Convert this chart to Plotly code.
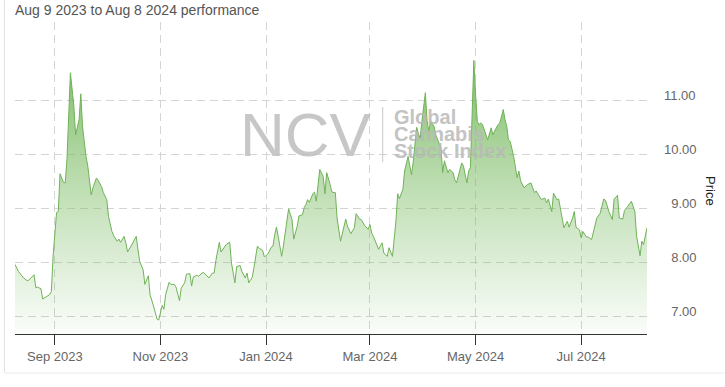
import pandas as pd
import plotly.graph_objects as go

# ---- data ----
start_date = "2023-08-09"
day_offsets = [
    0, 2, 5, 7, 8, 10, 11, 12, 13, 15, 16, 18, 20, 21, 22, 24, 25, 26, 28, 29,
    30, 32, 34, 35, 37, 38, 39, 41, 42, 44, 45, 47, 48, 50, 51, 53, 54, 56, 57, 59,
    60, 61, 63, 64, 65, 67, 70, 71, 72, 74, 75, 77, 78, 80, 82, 83, 85, 86, 87, 89,
    90, 92, 93, 95, 96, 98, 99, 101, 102, 103, 105, 106, 108, 109, 111, 112, 114, 115, 116, 118,
    119, 121, 122, 124, 125, 127, 128, 130, 131, 133, 134, 135, 137, 138, 140, 141, 143, 144, 146, 148,
    149, 150, 151, 152, 154, 155, 158, 160, 161, 163, 164, 166, 167, 168, 169, 170, 172, 173, 174, 176,
    178, 179, 180, 182, 183, 185, 186, 188, 189, 191, 192, 194, 196, 197, 199, 200, 202, 204, 205, 206,
    207, 209, 210, 212, 213, 215, 216, 218, 220, 221, 222, 224, 225, 227, 228, 229, 230, 232, 233, 234,
    235, 237, 238, 239, 240, 242, 243, 245, 246, 247, 248, 250, 251, 253, 254, 255, 257, 258, 259, 260,
    261, 262, 263, 264, 265, 266, 267, 268, 269, 270, 272, 273, 275, 276, 277, 279, 280, 282, 283, 284,
    285, 286, 288, 289, 290, 291, 292, 294, 296, 298, 299, 300, 301, 303, 304, 306, 307, 308, 310, 311,
    313, 314, 316, 317, 319, 320, 322, 323, 324, 326, 327, 328, 330, 331, 333, 334, 336, 338, 340, 341,
    343, 345, 346, 348, 349, 351, 352, 354, 356, 358, 359, 361, 362, 363, 365,
]
prices = [
    7.96, 7.83, 7.71, 7.66, 7.67, 7.75, 7.77, 7.53, 7.54, 7.51, 7.32, 7.36, 7.40, 7.46, 8.11, 8.92, 8.94, 9.64, 9.48, 9.47,
    9.90, 11.51, 10.89, 10.36, 10.64, 11.12, 10.52, 9.96, 9.79, 9.25, 9.38, 9.56, 9.52, 9.40, 9.29, 9.16, 8.85, 8.57, 8.49, 8.39,
    8.43, 8.37, 8.48, 8.36, 8.19, 8.30, 8.48, 8.24, 8.02, 7.86, 7.59, 7.75, 7.40, 7.19, 6.95, 6.93, 7.20, 7.13, 7.40, 7.63,
    7.59, 7.59, 7.54, 7.29, 7.52, 7.62, 7.78, 7.79, 7.56, 7.73, 7.76, 7.74, 7.80, 7.81, 7.75, 7.71, 7.80, 7.80, 8.03, 8.37,
    8.19, 8.27, 8.33, 8.37, 7.99, 7.62, 7.92, 7.94, 7.83, 7.71, 7.80, 7.62, 7.72, 7.90, 8.30, 8.26, 8.22, 8.10, 8.15, 8.28,
    8.30, 8.51, 8.65, 8.48, 8.11, 8.30, 8.99, 8.79, 8.43, 8.67, 8.86, 8.88, 9.01, 9.07, 9.16, 9.11, 9.27, 9.30, 9.13, 9.72,
    9.59, 9.27, 9.66, 9.44, 9.30, 9.29, 8.82, 8.39, 8.54, 8.80, 8.67, 8.53, 8.64, 8.90, 8.80, 8.79, 8.68, 8.61, 8.70, 8.54,
    8.48, 8.33, 8.24, 8.36, 8.17, 8.11, 8.27, 8.11, 8.76, 9.27, 9.18, 9.35, 9.69, 9.96, 9.75, 9.62, 9.87, 10.50, 10.38, 10.30,
    10.61, 11.14, 10.61, 10.43, 10.61, 10.52, 10.36, 10.21, 10.12, 9.66, 9.88, 9.66, 9.72, 9.66, 9.53, 9.47, 9.72, 9.84, 9.78, 9.62,
    9.47, 9.69, 9.75, 10.73, 11.74, 11.11, 10.61, 10.55, 10.58, 10.55, 10.36, 10.27, 10.49, 10.36, 10.43, 10.55, 10.58, 10.83, 10.64, 10.52,
    10.27, 10.24, 9.96, 9.75, 9.57, 9.69, 9.51, 9.38, 9.44, 9.47, 9.36, 9.29, 9.32, 9.22, 9.16, 9.19, 9.10, 9.17, 8.94, 9.28,
    9.16, 9.17, 8.79, 8.64, 8.76, 8.65, 8.82, 8.94, 8.65, 8.60, 8.45, 8.57, 8.47, 8.47, 8.42, 8.57, 8.82, 8.91, 9.17, 9.15,
    8.94, 8.79, 9.17, 9.24, 8.82, 8.80, 8.96, 9.04, 9.13, 8.94, 8.48, 8.12, 8.39, 8.33, 8.64,
]
y_tick_values = [7, 8, 9, 10, 11]
y_tick_labels = ["\u20077.00", "\u20078.00", "\u20079.00", "10.00", "11.00"]
title_text = "Aug 9 2023 to Aug 8 2024 performance"
axis_title = "Price"

dates = pd.to_datetime(start_date) + pd.to_timedelta(day_offsets, unit="D")

# ---- layout geometry (pixels) ----
W, H = 725, 387
ML, MR, MT, MB = 15, 78, 22, 53
PW, PH = W - ML - MR, H - MT - MB


def px(x):
    return (x - ML) / PW


def py(y):
    return (H - MB - y) / PH


FONT = "Arial, Liberation Sans, sans-serif"
GREEN = "rgb(112,178,88)"

fig = go.Figure()
fig.add_trace(go.Scatter(
    x=dates, y=prices, mode="lines",
    line=dict(color=GREEN, width=1),
    fill="tozeroy",
    fillgradient=dict(
        type="vertical",
        start=6.67, stop=11.8,
        colorscale=[[0, "rgba(120,186,96,0.03)"], [0.5, "rgba(120,186,96,0.45)"], [1, "rgba(120,186,96,0.95)"]],
    ),
    hoverinfo="x+y", showlegend=False,
))

grid = "#d4d4d4"
fig.update_layout(
    width=W, height=H,
    margin=dict(l=ML, r=MR, t=MT, b=MB, pad=0, autoexpand=False),
    paper_bgcolor="white", plot_bgcolor="white",
    font=dict(family=FONT, size=13, color="#666"),
    xaxis=dict(
        type="date",
        range=[dates[0], dates[-1]],
        tick0="2023-09-01", dtick="M2", tickformat="%b %Y",
        ticks="outside", ticklen=10, tickcolor="#333", tickwidth=1,
        showline=True, linecolor="#333", linewidth=1,
        showgrid=True, gridcolor=grid, griddash="8px,5px", gridwidth=1,
        tickfont=dict(size=13, color="#666"),
        zeroline=False, fixedrange=True, automargin=False,
    ),
    yaxis=dict(
        side="right", range=[6.672, 12.45],
        tickvals=y_tick_values, ticktext=y_tick_labels,
        ticks="", ticklabelstandoff=16, ticklabelshift=-5,
        showgrid=True, gridcolor=grid, griddash="8px,5px", gridwidth=1,
        showline=False, zeroline=False,
        tickfont=dict(size=13, color="#666"),
        fixedrange=True, automargin=False,
    ),
)

ann = []
# title
ann.append(dict(text=title_text, x=px(13), y=py(10), xref="paper", yref="paper",
                xanchor="left", yanchor="middle", showarrow=False,
                font=dict(size=14, color="#555", family=FONT)))
# axis title
ann.append(dict(text=axis_title, x=px(711), y=py(191), xref="paper", yref="paper",
                xanchor="center", yanchor="middle", showarrow=False, textangle=90,
                font=dict(size=13, color="#222", family=FONT)))
# watermark
ann.append(dict(text="NCV", x=px(306), y=py(134), xref="paper", yref="paper",
                xanchor="center", yanchor="middle", showarrow=False, opacity=0.85,
                font=dict(size=62, color="rgb(190,190,190)", family=FONT)))
for txt, yc in [("Global", 117), ("Cannabis", 134), ("Stock Index", 151)]:
    ann.append(dict(text="<b>" + txt + "</b>", x=px(392), y=py(yc), xref="paper", yref="paper",
                    xanchor="left", yanchor="middle", showarrow=False, opacity=0.85,
                    font=dict(size=20, color="rgb(185,185,185)", family=FONT)))
fig.update_layout(annotations=ann)

shapes = [
    dict(type="line", xref="paper", yref="paper", x0=px(382.7), x1=px(382.7), y0=py(107), y1=py(162),
         line=dict(color="rgb(200,200,200)", width=1)),
    dict(type="line", xref="paper", yref="paper", x0=px(4.5), x1=px(4.5), y0=py(-5), y1=py(373),
         line=dict(color="#e2e2e2", width=1)),
    dict(type="line", xref="paper", yref="paper", x0=px(4.5), x1=px(730), y0=py(373), y1=py(373),
         line=dict(color="#ececec", width=1)),
]
fig.update_layout(shapes=shapes)

fig.write_html("out.html", config={"displayModeBar": False},
               post_script="document.body.style.margin='0';document.body.style.padding='0';")
